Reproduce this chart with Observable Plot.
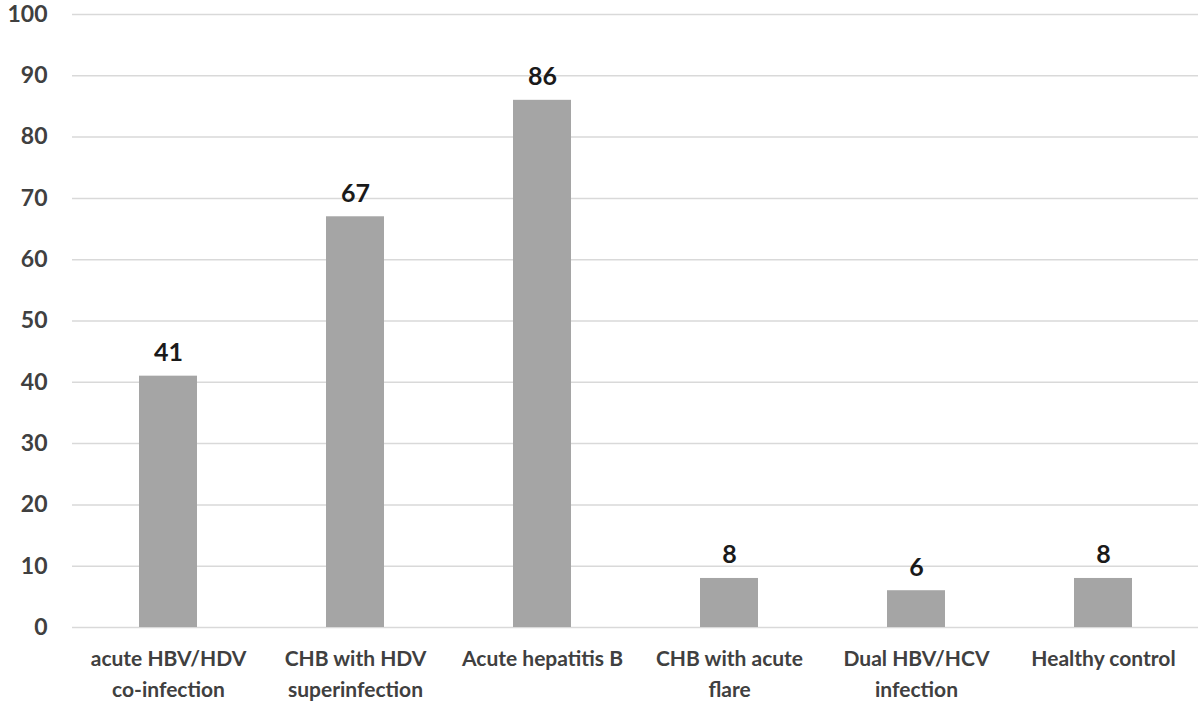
<!DOCTYPE html>
<html>
<head>
<meta charset="utf-8">
<script src="https://cdn.jsdelivr.net/npm/d3@7"></script>
<script src="https://cdn.jsdelivr.net/npm/@observablehq/plot@0.6"></script>
<style>
  html, body { margin: 0; padding: 0; background: #fff; }
  #chart { width: 1200px; height: 703px; }
  svg { overflow: visible; }
</style>
</head>
<body>
<div id="chart"></div>
<script>
const categories = [
  "acute HBV/HDV\nco-infection",
  "CHB with HDV\nsuperinfection",
  "Acute hepatitis B",
  "CHB with acute\nflare",
  "Dual HBV/HCV\ninfection",
  "Healthy control"
];
const values = [41, 67, 86, 8, 6, 8];
const yTicks = [0, 10, 20, 30, 40, 50, 60, 70, 80, 90, 100];

const data = categories.map((c, i) => ({category: c, value: values[i]}));

const chart = Plot.plot({
  width: 1200,
  height: 703,
  marginTop: 14,
  marginBottom: 76,
  marginLeft: 72,
  marginRight: 2,
  style: {fontFamily: "Lato, 'Open Sans', sans-serif", background: "#fff", overflow: "visible"},
  x: {domain: categories, paddingInner: 0.69, paddingOuter: 0.345, label: null},
  y: {domain: [0, 100], ticks: yTicks, label: null},
  marks: [
    Plot.gridY(yTicks, {stroke: "#d9d9d9", strokeOpacity: 1, strokeWidth: 1.5}),
    Plot.axisY(yTicks, {
      tickSize: 0, tickPadding: 25, fontSize: 23, fontWeight: "bold",
      fill: "#404040", label: null
    }),
    Plot.axisX({
      tickSize: 0, tickPadding: 16, fontSize: 21, fontWeight: "bold",
      fill: "#404040", label: null, lineHeight: 1.5
    }),
    Plot.barY(data, {x: "category", y: "value", fill: "#a5a5a5"}),
    Plot.text(data, {
      x: "category", y: "value", text: d => String(d.value),
      dy: -23, fontSize: 25, fontWeight: "bold", fill: "#1a1a1a"
    })
  ]
});
document.getElementById("chart").appendChild(chart);
</script>
</body>
</html>
